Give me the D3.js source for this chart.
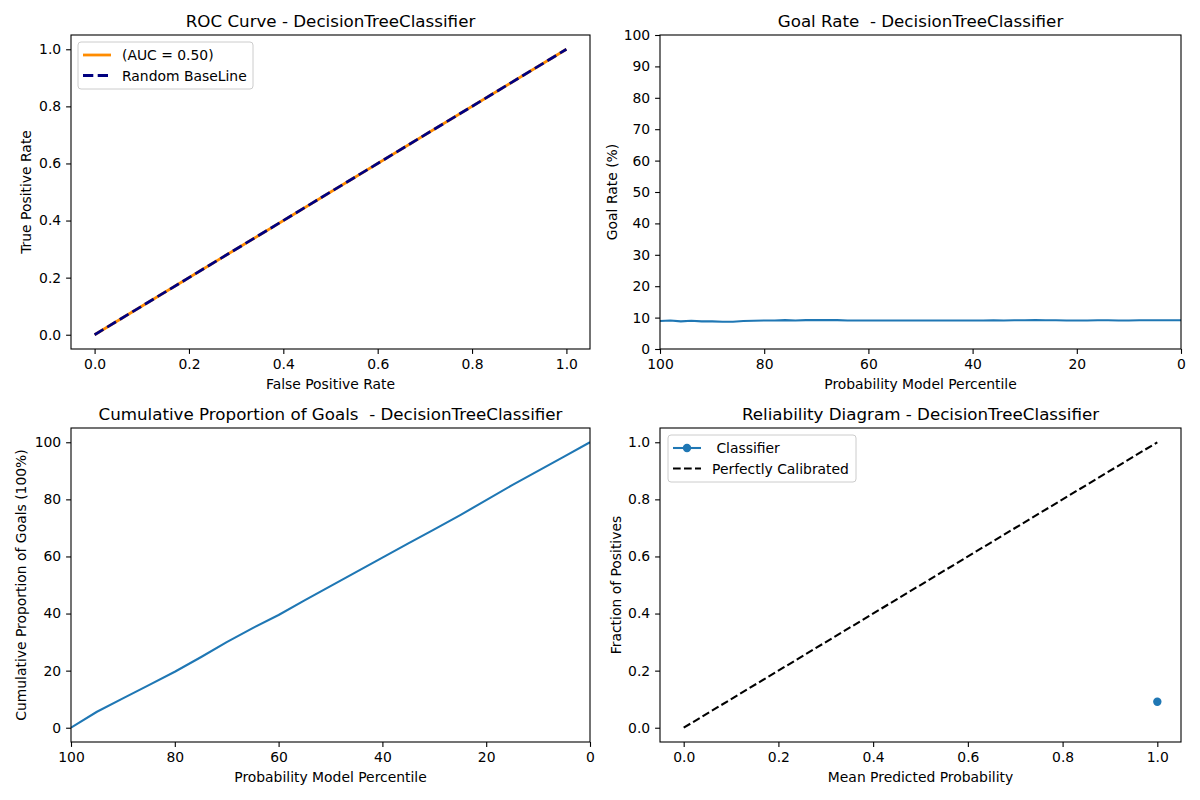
<!DOCTYPE html>
<html>
<head>
<meta charset="utf-8">
<script src="https://cdn.jsdelivr.net/npm/d3@7"></script>
<style>
  body { margin: 0; background: #fff; }
  svg text { font-family: "DejaVu Sans", sans-serif; fill: #000; white-space: pre; }
</style>
</head>
<body>
<svg id="fig" width="1200" height="800"></svg>
<script>
// ROC
var rocFpr = [0, 1];
var rocTpr = [0, 1];
var baseX = [0, 1];
var baseY = [0, 1];
var rocTicks = [0, 0.2, 0.4, 0.6, 0.8, 1.0];

// goal rate by percentile
var goalPct = [100, 98, 96, 94, 92, 90, 88, 86, 84, 82, 80, 78, 76, 74, 72, 70, 68, 66, 64, 62, 60,
  58, 56, 54, 52, 50, 48, 46, 44, 42, 40, 38, 36, 34, 32, 30, 28, 26, 24, 22, 20,
  18, 16, 14, 12, 10, 8, 6, 4, 2, 0];
var goalRate = [8.9, 9.1, 8.8, 9.0, 8.8, 8.8, 8.7, 8.7, 8.9, 9.0, 9.1, 9.1, 9.2, 9.1, 9.2, 9.2, 9.2, 9.2, 9.1, 9.1, 9.1,
  9.1, 9.1, 9.1, 9.1, 9.1, 9.1, 9.05, 9.1, 9.1, 9.1, 9.1, 9.15, 9.1, 9.15, 9.15, 9.2, 9.15, 9.15, 9.1, 9.1,
  9.1, 9.15, 9.15, 9.1, 9.1, 9.15, 9.15, 9.15, 9.15, 9.15];
var goalYTicks = [0, 10, 20, 30, 40, 50, 60, 70, 80, 90, 100];
var pctTicks = [100, 80, 60, 40, 20, 0];

// cumulative goals
var cumPct = [100, 95, 90, 85, 80, 75, 70, 65, 60, 55, 50, 45, 40, 35, 30, 25, 20, 15, 10, 5, 0];
var cumGoals = [0, 5.6, 10.3, 14.9, 19.6, 24.7, 30.0, 34.9, 39.5, 44.6, 49.6, 54.6, 59.6, 64.6, 69.5, 74.5, 79.7, 85.0, 90.0, 95.0, 100];
var cumYTicks = [0, 20, 40, 60, 80, 100];

// reliability
var relMean = [1.0];
var relFrac = [0.091];
var calX = [0, 1];
var calY = [0, 1];

var svg = d3.select("#fig");

function panel(box, xdom, ydom, xticks, yticks, xfmt, yfmt) {
  var g = svg.append("g").attr("transform", "translate(" + box.x + "," + box.y + ")");
  var x = d3.scaleLinear().domain(xdom).range([0, box.w]);
  var y = d3.scaleLinear().domain(ydom).range([box.h, 0]);
  var ax = g.append("g").attr("transform", "translate(0," + box.h + ")")
    .call(d3.axisBottom(x).tickValues(xticks).tickFormat(xfmt).tickSizeOuter(0).tickSize(4.9).tickPadding(4.9));
  var ay = g.append("g")
    .call(d3.axisLeft(y).tickValues(yticks).tickFormat(yfmt).tickSizeOuter(0).tickSize(4.9).tickPadding(4.9));
  [ax, ay].forEach(function(a) {
    a.select(".domain").remove();
    a.selectAll("text").attr("font-size", 13.9).attr("font-family", "DejaVu Sans").attr("fill", "#000");
    a.selectAll("line").attr("stroke", "#000").attr("stroke-width", 1.1);
  });
  g.append("defs").append("clipPath").attr("id", "clip" + box.id)
    .append("rect").attr("width", box.w).attr("height", box.h);
  var plot = g.append("g").attr("clip-path", "url(#clip" + box.id + ")");
  g.append("rect").attr("width", box.w).attr("height", box.h)
    .attr("fill", "none").attr("stroke", "#000").attr("stroke-width", 1.1);
  return { g: g, plot: plot, x: x, y: y };
}

function labels(p, box, title, xl, yl, ylx) {
  p.g.append("text").attr("x", box.w / 2).attr("y", -8).attr("text-anchor", "middle")
    .attr("font-size", 16.7).text(title);
  p.g.append("text").attr("x", box.w / 2).attr("y", box.h + 40).attr("text-anchor", "middle")
    .attr("font-size", 13.9).text(xl);
  p.g.append("text").attr("transform", "translate(" + ylx + "," + box.h / 2 + ") rotate(-90)")
    .attr("text-anchor", "middle").attr("font-size", 13.9).text(yl);
}

function line(p, xs, ys, color, width, dash) {
  var l = d3.line().x(function(d) { return p.x(d[0]); }).y(function(d) { return p.y(d[1]); });
  p.plot.append("path").datum(d3.zip(xs, ys)).attr("d", l)
    .attr("fill", "none").attr("stroke", color).attr("stroke-width", width)
    .attr("stroke-dasharray", dash || null).attr("stroke-linejoin", "round");
}

function legend(p, items, x0, y0, w) {
  var h = items.length * 20.5 + 6;
  var lg = p.g.append("g").attr("transform", "translate(" + x0 + "," + y0 + ")");
  lg.append("rect").attr("width", w).attr("height", h).attr("rx", 3)
    .attr("fill", "#fff").attr("fill-opacity", 0.8).attr("stroke", "#ccc");
  items.forEach(function(it, i) {
    var cy = 13 + i * 20.5;
    lg.append("line").attr("x1", 5).attr("x2", 33).attr("y1", cy).attr("y2", cy)
      .attr("stroke", it.color).attr("stroke-width", it.width).attr("stroke-dasharray", it.dash || null);
    if (it.marker) lg.append("circle").attr("cx", 19).attr("cy", cy).attr("r", 4.2).attr("fill", it.color);
    lg.append("text").attr("x", 44).attr("y", cy + 5).attr("font-size", 13.9).text(it.label);
  });
}

var f1 = d3.format(".1f"), fi = d3.format("d");

// top left: ROC
var b1 = { id: 1, x: 71, y: 35, w: 519, h: 314 };
var p1 = panel(b1, [-0.05, 1.05], [-0.05, 1.05], rocTicks, rocTicks, f1, f1);
labels(p1, b1, "ROC Curve - DecisionTreeClassifier", "False Positive Rate", "True Positive Rate", -40);
line(p1, rocFpr, rocTpr, "darkorange", 2.78);
line(p1, baseX, baseY, "navy", 2.78, "10.3,4.4");
legend(p1, [
  { label: "(AUC = 0.50)", color: "darkorange", width: 2.78 },
  { label: "Random BaseLine", color: "navy", width: 2.78, dash: "10.3,4.4" }
], 7, 7, 175);

// top right: goal rate
var b2 = { id: 2, x: 660, y: 35, w: 521, h: 314 };
var p2 = panel(b2, [100, 0], [0, 100], pctTicks, goalYTicks, fi, fi);
labels(p2, b2, "Goal Rate  - DecisionTreeClassifier", "Probability Model Percentile", "Goal Rate (%)", -43);
line(p2, goalPct, goalRate, "#1f77b4", 2.08);

// bottom left: cumulative
var b3 = { id: 3, x: 71, y: 428, w: 519, h: 314 };
var p3 = panel(b3, [100, 0], [-5, 105], pctTicks, cumYTicks, fi, fi);
labels(p3, b3, "Cumulative Proportion of Goals  - DecisionTreeClassifier", "Probability Model Percentile", "Cumulative Proportion of Goals (100%)", -45);
line(p3, cumPct, cumGoals, "#1f77b4", 2.08);

// bottom right: reliability
var b4 = { id: 4, x: 660, y: 428, w: 521, h: 314 };
var p4 = panel(b4, [-0.05, 1.05], [-0.05, 1.05], rocTicks, rocTicks, f1, f1);
labels(p4, b4, "Reliability Diagram - DecisionTreeClassifier", "Mean Predicted Probability", "Fraction of Positives", -39);
line(p4, calX, calY, "#000", 2.08, "7.7,3.3");
line(p4, relMean, relFrac, "#1f77b4", 2.08);
p4.plot.selectAll("circle.pt").data(d3.zip(relMean, relFrac)).enter().append("circle")
  .attr("class", "pt").attr("cx", function(d) { return p4.x(d[0]); }).attr("cy", function(d) { return p4.y(d[1]); })
  .attr("r", 4.2).attr("fill", "#1f77b4");
legend(p4, [
  { label: " Classifier", color: "#1f77b4", width: 2.08, marker: true },
  { label: "Perfectly Calibrated", color: "#000", width: 2.08, dash: "7.7,3.3" }
], 8, 7, 188);
</script>
</body>
</html>
